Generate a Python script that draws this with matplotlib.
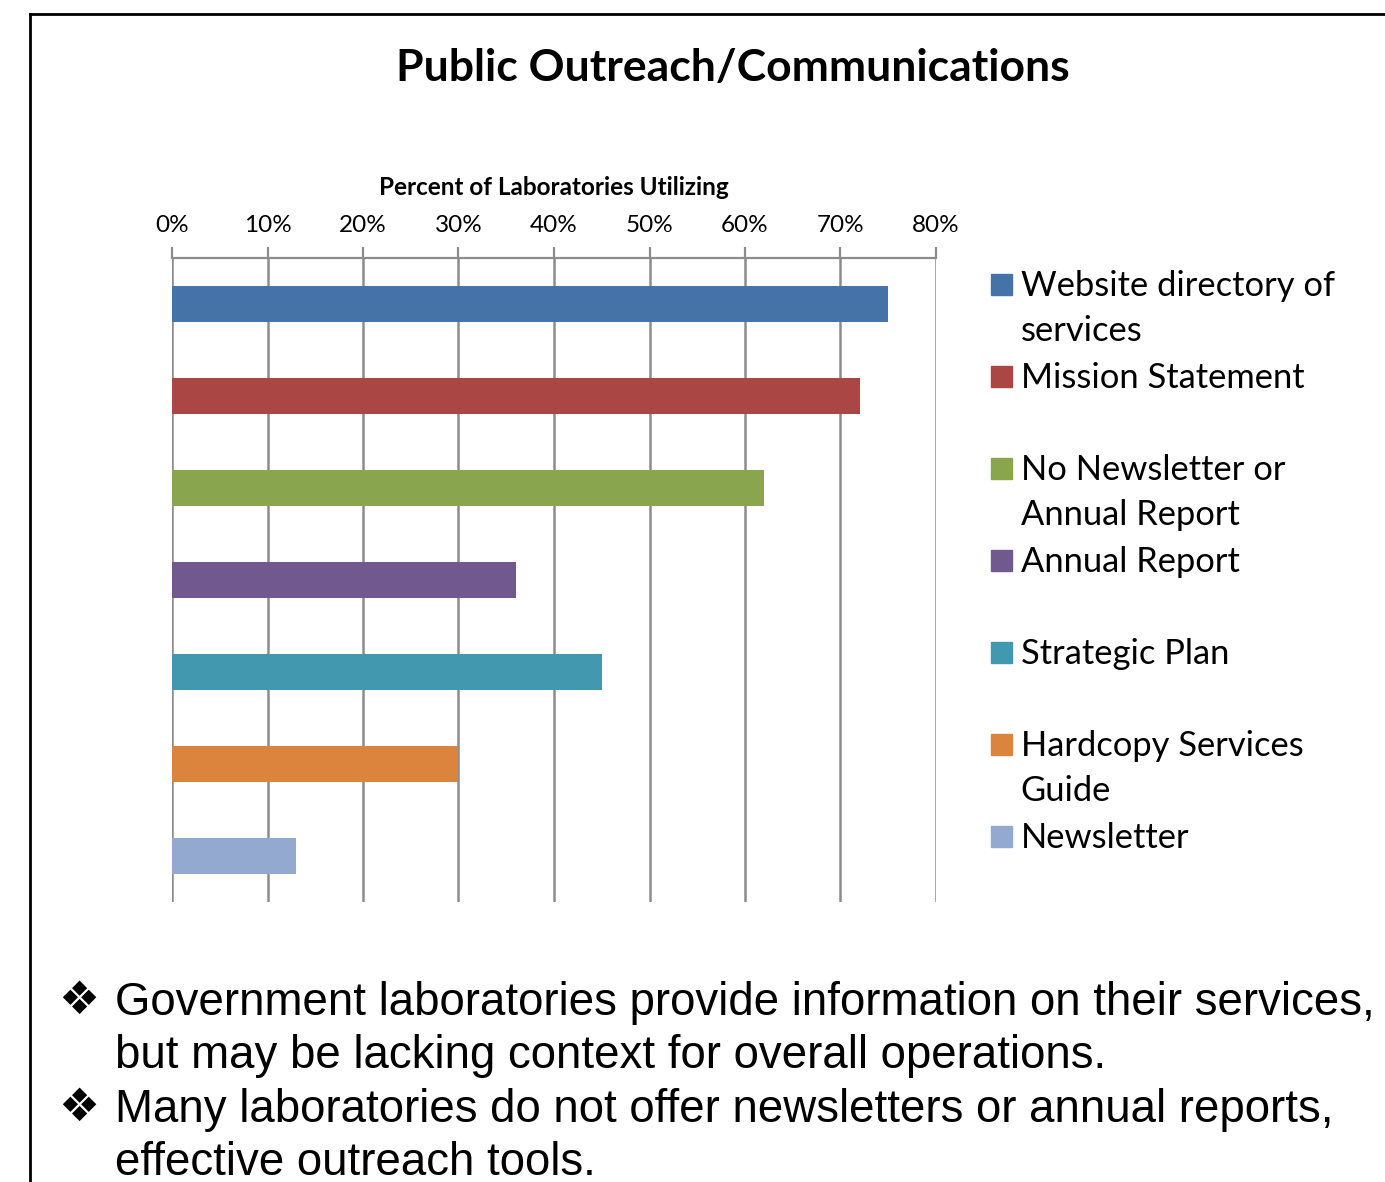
import numpy as np
import matplotlib.pyplot as plt
import matplotlib.transforms as mtransforms
from matplotlib.patches import Rectangle
from matplotlib.lines import Line2D

# Data
categories = ['Website directory of\nservices', 'Mission Statement',
              'No Newsletter or\nAnnual Report', 'Annual Report',
              'Strategic Plan', 'Hardcopy Services\nGuide', 'Newsletter']
percents = [75, 72, 62, 36, 45, 30, 13]
colors = ['#4572A7', '#AA4643', '#89A54E', '#71588F', '#4198AF', '#DB843D', '#93A9CF']
xticks = [0, 10, 20, 30, 40, 50, 60, 70, 80]
bullets = ['Government laboratories provide information on their services,\nbut may be lacking context for overall operations.',
           'Many laboratories do not offer newsletters or annual reports,\neffective outreach tools.']

W, H = 1385, 1182
fig = plt.figure(figsize=(W / 100, H / 100), dpi=100)
font = 'Lato'

ax = fig.add_axes([172 / W, 1 - 902 / H, (936 - 172) / W, (902 - 258) / H])
y = np.arange(len(categories))
ax.barh(y, percents, height=0.4, color=colors, zorder=3)
ax.set_ylim(len(categories) - 0.5, -0.5)
ax.set_xlim(0, 80)
ax.set_xticks(xticks)
ax.set_xticklabels([f'{t}%' for t in xticks], fontsize=17.5, family=font)
ax.xaxis.tick_top()
ax.xaxis.set_label_position('top')
ax.tick_params(axis='x', which='major', length=8, width=1.6, color='#8c8c8c', pad=8)
ax.set_yticks([])
ax.grid(axis='x', color='#8c8c8c', linewidth=1.8, zorder=0)
for s in ['left', 'right', 'bottom']:
    ax.spines[s].set_visible(False)
ax.spines['top'].set_color('#8c8c8c')
ax.spines['top'].set_linewidth(1.6)
ax.set_xlabel('Percent of Laboratories Utilizing', fontsize=17.5, fontweight='bold',
              family=font, labelpad=14)

# legend drawn beside the bars, one text line at a time
trans = mtransforms.blended_transform_factory(ax.transAxes, ax.transData)
for i, (lab, c) in enumerate(zip(categories, colors)):
    ax.add_patch(Rectangle((1.072, i - 0.207 - 0.114), 0.0275, 0.228, transform=trans,
                           color=c, clip_on=False))
    for j, line in enumerate(lab.split('\n')):
        ax.text(1.111, i - 8 / 92 + j * 45 / 92, line, transform=trans, fontsize=24.8,
                family=font, va='baseline', ha='left')

fig.text(733 / W, 1 - 68 / H, 'Public Outreach/Communications', fontsize=32,
         fontweight='bold', family=font, ha='center', va='center')

# bullet text
for k, b in enumerate(bullets):
    y0 = 1015 + k * 107
    fig.text(58 / W, 1 - (y0 - 1) / H, '\u2756', fontsize=33, family='DejaVu Sans',
             va='baseline')
    for j, line in enumerate(b.split('\n')):
        fig.text(115 / W, 1 - (y0 + j * 53) / H, line, fontsize=32.9,
                 family=['Liberation Sans', 'DejaVu Sans'], va='baseline', ha='left')

# frame around slide
fig.add_artist(Line2D([30 / W, 30 / W], [0, 1 - 14 / H], color='black', lw=2))
fig.add_artist(Line2D([30 / W, 1], [1 - 14 / H, 1 - 14 / H], color='black', lw=2))

fig.savefig('out.png', dpi=100)
